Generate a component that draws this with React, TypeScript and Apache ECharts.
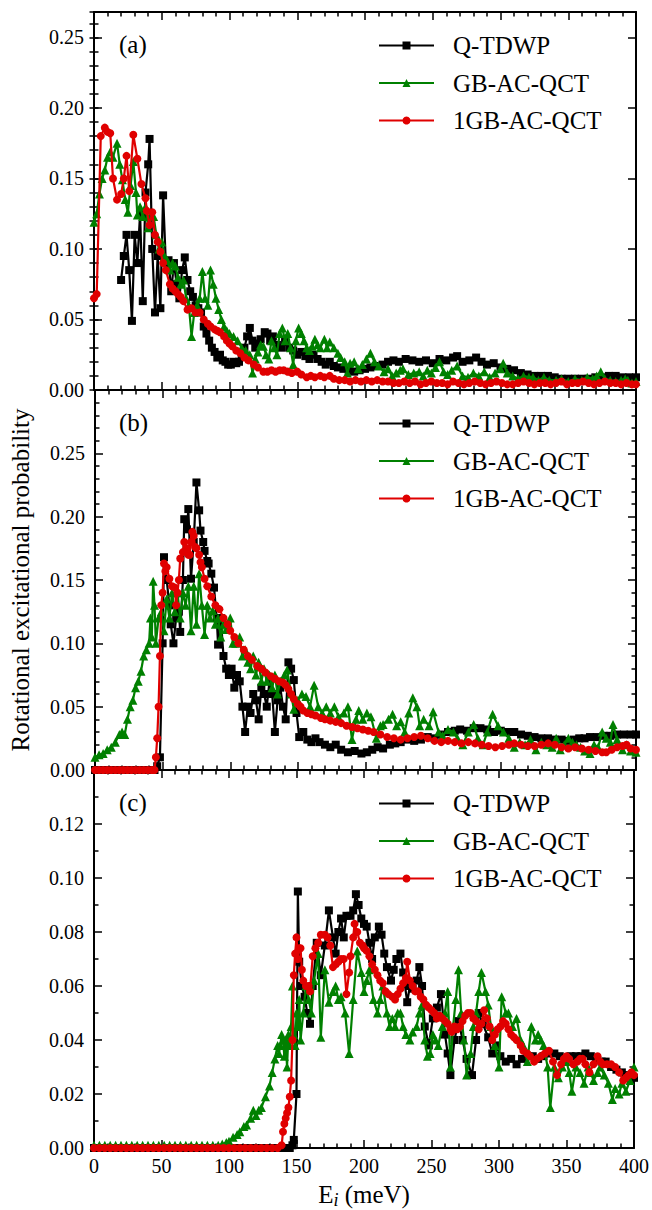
import React, { useEffect, useRef } from "react";
import * as echarts from "echarts";

const NAMES = ["Q-TDWP", "GB-AC-QCT", "1GB-AC-QCT"];
const COLORS = ["#000000", "#008000", "#e00000"];
const SYMBOLS = ["rect", "triangle", "circle"];
const SYMBOL_SIZES = [8, 9, 8];
const PANEL_LABELS = ["(a)", "(b)", "(c)"];
const X_TICKS = { min: 0, max: 400, interval: 50 };
const Y_RANGES = [
  { max: 0.268, interval: 0.05 },
  { max: 0.3, interval: 0.05 },
  { max: 0.14, interval: 0.02 },
];

type P = [number, number][];

// Panel (a)
const aQtdwp: P = [[20,0.078],[22,0.095],[24,0.11],[26,0.085],[28,0.049],[30,0.11],[32,0.09],[34,0.125],[36,0.063],[38,0.14],[40,0.16],[41,0.178],[43,0.1],[45,0.055],[47,0.095],[49,0.058],[51,0.138],[53,0.09],[55,0.092],[57,0.07],[59,0.09],[61,0.075],[63,0.065],[65,0.085],[67,0.094],[69,0.078],[71,0.07],[73,0.066],[75,0.06],[77,0.058],[79,0.055],[81,0.045],[83,0.04],[85,0.035],[87,0.03],[89,0.027],[91,0.023],[93,0.025],[95,0.021],[97,0.02],[99,0.018],[101,0.018],[103,0.02],[105,0.019],[107,0.02],[109,0.025],[111,0.03],[113,0.038],[115,0.044],[117,0.035],[119,0.03],[121,0.033],[123,0.036],[126,0.041],[128,0.04],[130,0.035],[132,0.038],[135,0.032],[138,0.03],[141,0.034],[144,0.03],[147,0.028],[150,0.025],[153,0.027],[156,0.024],[159,0.022],[162,0.025],[165,0.022],[168,0.02],[171,0.018],[174,0.02],[177,0.017],[180,0.016],[184,0.015],[188,0.014],[192,0.013],[196,0.014],[200,0.015],[204,0.016],[208,0.017],[213,0.018],[217,0.02],[221,0.021],[225,0.02],[230,0.022],[235,0.021],[240,0.02],[245,0.021],[250,0.019],[255,0.022],[260,0.021],[265,0.023],[268,0.024],[272,0.02],[277,0.021],[282,0.023],[286,0.02],[290,0.018],[295,0.019],[300,0.016],[305,0.015],[310,0.014],[315,0.012],[320,0.011],[325,0.01],[330,0.01],[335,0.01],[340,0.009],[345,0.008],[350,0.008],[355,0.008],[360,0.008],[365,0.008],[370,0.009],[375,0.009],[380,0.01],[385,0.01],[390,0.009],[395,0.009],[400,0.009]];
const aGb: P = [[0,0.119],[2,0.125],[4,0.139],[6,0.15],[8,0.156],[10,0.165],[12,0.169],[14,0.165],[17,0.175],[19,0.16],[21,0.149],[23,0.135],[25,0.126],[27,0.145],[29,0.162],[31,0.14],[32,0.124],[34,0.13],[36,0.123],[38,0.13],[40,0.115],[42,0.125],[44,0.123],[46,0.11],[48,0.1],[50,0.105],[52,0.095],[54,0.092],[56,0.085],[58,0.09],[60,0.088],[62,0.08],[64,0.075],[66,0.078],[68,0.065],[70,0.06],[72,0.038],[74,0.055],[76,0.06],[78,0.065],[80,0.084],[82,0.065],[84,0.06],[86,0.085],[88,0.075],[90,0.065],[92,0.057],[94,0.05],[96,0.045],[98,0.042],[100,0.04],[103,0.038],[106,0.035],[109,0.03],[112,0.028],[115,0.025],[117,0.012],[119,0.022],[121,0.027],[123,0.032],[125,0.031],[127,0.025],[129,0.022],[131,0.035],[133,0.03],[135,0.025],[137,0.04],[139,0.044],[141,0.035],[143,0.04],[145,0.03],[147,0.018],[149,0.035],[151,0.044],[153,0.04],[155,0.035],[157,0.03],[159,0.028],[161,0.031],[163,0.036],[165,0.032],[167,0.03],[170,0.036],[172,0.03],[174,0.034],[177,0.03],[180,0.026],[182,0.023],[185,0.02],[187,0.012],[189,0.019],[192,0.02],[195,0.015],[198,0.018],[201,0.022],[204,0.026],[207,0.02],[210,0.017],[214,0.013],[217,0.015],[220,0.01],[223,0.012],[226,0.014],[228,0.015],[232,0.011],[236,0.012],[240,0.013],[243,0.01],[246,0.014],[249,0.012],[252,0.016],[255,0.02],[258,0.013],[261,0.011],[264,0.014],[268,0.017],[272,0.01],[276,0.009],[280,0.012],[284,0.01],[288,0.013],[292,0.009],[296,0.012],[300,0.015],[302,0.019],[305,0.012],[309,0.01],[313,0.008],[317,0.01],[321,0.009],[324,0.009],[328,0.007],[332,0.009],[336,0.007],[341,0.007],[345,0.008],[350,0.006],[355,0.008],[360,0.007],[364,0.009],[368,0.008],[371,0.01],[374,0.013],[377,0.008],[381,0.007],[385,0.006],[389,0.007],[392,0.008],[394,0.007],[397,0.005],[400,0.006]];
const aGb1: P = [[0,0.065],[2,0.068],[5,0.18],[8,0.186],[10,0.183],[12,0.182],[14,0.15],[17,0.135],[20,0.139],[22,0.15],[24,0.166],[26,0.141],[29,0.181],[32,0.164],[35,0.146],[38,0.136],[39,0.127],[41,0.117],[43,0.126],[45,0.11],[47,0.105],[49,0.098],[51,0.09],[53,0.085],[56,0.075],[58,0.072],[60,0.07],[62,0.068],[64,0.066],[66,0.063],[69,0.057],[72,0.058],[75,0.055],[78,0.055],[81,0.05],[84,0.047],[86,0.045],[89,0.043],[91,0.042],[93,0.041],[96,0.038],[98,0.035],[100,0.033],[102,0.031],[105,0.028],[108,0.026],[111,0.023],[114,0.021],[118,0.018],[121,0.016],[125,0.013],[128,0.013],[131,0.014],[134,0.013],[137,0.014],[140,0.014],[143,0.013],[146,0.012],[150,0.013],[153,0.011],[157,0.009],[160,0.01],[163,0.009],[167,0.01],[170,0.009],[174,0.01],[177,0.008],[181,0.007],[185,0.007],[189,0.006],[193,0.007],[197,0.006],[201,0.007],[205,0.006],[209,0.007],[213,0.006],[217,0.006],[221,0.005],[225,0.005],[229,0.006],[233,0.005],[237,0.006],[241,0.004],[245,0.005],[249,0.006],[253,0.005],[257,0.005],[261,0.004],[265,0.006],[269,0.005],[273,0.004],[277,0.005],[281,0.006],[285,0.005],[289,0.004],[293,0.005],[297,0.006],[301,0.005],[305,0.004],[309,0.004],[313,0.005],[317,0.006],[321,0.005],[325,0.004],[329,0.005],[333,0.005],[337,0.004],[341,0.005],[345,0.006],[349,0.004],[353,0.005],[357,0.005],[361,0.006],[365,0.005],[369,0.004],[373,0.005],[377,0.006],[381,0.005],[385,0.005],[389,0.004],[393,0.005],[397,0.004],[400,0.004]];

// Panel (b)
const bQtdwp: P = [[0,0],[3,0],[6,0],[9,0],[12,0],[15,0],[18,0],[21,0],[24,0],[27,0],[30,0],[33,0],[36,0],[39,0],[42,0],[44,0],[46,0.003],[48,0.01],[50,0.1],[51,0.168],[53,0.15],[55,0.13],[56,0.115],[58,0.1],[60,0.12],[62,0.125],[63,0.109],[65,0.15],[66,0.198],[68,0.19],[69,0.206],[71,0.151],[73,0.18],[75,0.227],[77,0.205],[78,0.189],[80,0.18],[81,0.173],[83,0.165],[84,0.163],[86,0.155],[88,0.144],[90,0.12],[91,0.099],[93,0.12],[95,0.09],[97,0.08],[99,0.075],[101,0.08],[103,0.065],[105,0.075],[107,0.07],[109,0.05],[111,0.03],[113,0.05],[115,0.045],[117,0.06],[119,0.055],[121,0.04],[123,0.065],[125,0.06],[127,0.05],[129,0.07],[131,0.06],[133,0.03],[135,0.055],[137,0.065],[139,0.05],[141,0.04],[143,0.085],[145,0.08],[147,0.071],[149,0.045],[151,0.026],[154,0.03],[157,0.024],[160,0.022],[163,0.025],[166,0.022],[170,0.02],[174,0.018],[178,0.02],[182,0.016],[187,0.014],[192,0.015],[197,0.013],[201,0.014],[205,0.016],[209,0.018],[213,0.017],[218,0.02],[222,0.021],[226,0.022],[231,0.024],[236,0.023],[241,0.024],[246,0.026],[251,0.025],[256,0.028],[261,0.03],[266,0.031],[270,0.032],[275,0.031],[280,0.033],[285,0.033],[290,0.032],[295,0.03],[300,0.031],[305,0.03],[310,0.03],[315,0.028],[320,0.027],[325,0.026],[330,0.025],[335,0.025],[340,0.024],[345,0.024],[350,0.023],[354,0.024],[358,0.025],[362,0.025],[366,0.026],[371,0.026],[376,0.027],[381,0.027],[386,0.028],[391,0.028],[396,0.028],[400,0.028]];
const bGb: P = [[0,0.01],[3,0.012],[6,0.013],[9,0.016],[12,0.018],[15,0.022],[18,0.028],[20,0.03],[22,0.028],[24,0.04],[26,0.05],[28,0.055],[30,0.065],[32,0.07],[34,0.078],[36,0.09],[38,0.095],[40,0.1],[41,0.12],[42,0.105],[43,0.149],[44,0.13],[45,0.1],[47,0.12],[49,0.125],[51,0.11],[53,0.135],[55,0.12],[57,0.14],[59,0.125],[61,0.14],[63,0.12],[65,0.14],[67,0.13],[69,0.145],[71,0.11],[73,0.145],[75,0.115],[77,0.155],[79,0.13],[81,0.107],[83,0.13],[85,0.12],[87,0.126],[89,0.115],[91,0.12],[93,0.105],[95,0.115],[97,0.111],[100,0.12],[102,0.1],[104,0.1],[107,0.105],[109,0.09],[111,0.095],[113,0.085],[115,0.08],[117,0.09],[119,0.075],[121,0.085],[123,0.07],[125,0.08],[127,0.07],[129,0.075],[131,0.065],[133,0.075],[135,0.06],[137,0.07],[140,0.075],[142,0.079],[145,0.06],[147,0.048],[150,0.055],[153,0.06],[156,0.058],[159,0.05],[162,0.067],[165,0.05],[168,0.045],[171,0.05],[174,0.045],[177,0.05],[180,0.042],[184,0.045],[187,0.05],[190,0.024],[193,0.04],[195,0.047],[198,0.04],[201,0.045],[204,0.042],[208,0.025],[211,0.035],[213,0.036],[217,0.04],[220,0.044],[223,0.035],[226,0.038],[229,0.03],[232,0.045],[235,0.057],[238,0.05],[240,0.035],[243,0.04],[247,0.035],[250,0.046],[254,0.03],[257,0.027],[261,0.032],[265,0.03],[268,0.025],[272,0.02],[276,0.03],[280,0.036],[283,0.025],[287,0.02],[290,0.03],[294,0.044],[298,0.035],[302,0.03],[306,0.025],[310,0.018],[314,0.022],[318,0.02],[322,0.024],[326,0.016],[330,0.022],[334,0.02],[338,0.018],[341,0.025],[344,0.016],[347,0.02],[350,0.025],[353,0.022],[356,0.02],[359,0.018],[362,0.015],[366,0.013],[369,0.02],[372,0.018],[375,0.03],[378,0.025],[381,0.022],[383,0.036],[386,0.024],[390,0.016],[393,0.02],[396,0.015],[400,0.014]];
const bGb1: P = [[0,0],[3,0],[6,0],[9,0],[12,0],[15,0],[18,0],[21,0],[24,0],[27,0],[30,0],[33,0],[36,0],[39,0],[42,0],[44,0],[45,0.01],[46,0.025],[47,0.05],[48,0.09],[49,0.13],[50,0.14],[51,0.163],[52,0.157],[53,0.16],[55,0.151],[57,0.145],[59,0.144],[60,0.13],[61,0.14],[62,0.15],[63,0.167],[65,0.172],[66,0.18],[68,0.175],[69,0.17],[70,0.17],[71,0.18],[72,0.188],[73,0.185],[74,0.176],[75,0.175],[77,0.17],[78,0.164],[79,0.16],[81,0.151],[83,0.145],[86,0.137],[89,0.13],[92,0.127],[95,0.12],[98,0.115],[100,0.11],[103,0.105],[106,0.1],[110,0.095],[113,0.09],[116,0.087],[120,0.082],[123,0.08],[126,0.077],[130,0.074],[133,0.072],[136,0.07],[139,0.069],[141,0.067],[143,0.064],[145,0.06],[147,0.056],[150,0.052],[152,0.05],[154,0.047],[157,0.045],[160,0.044],[163,0.043],[167,0.041],[170,0.04],[174,0.039],[178,0.038],[182,0.037],[186,0.035],[190,0.034],[194,0.033],[198,0.032],[202,0.031],[206,0.03],[211,0.028],[216,0.026],[221,0.025],[226,0.024],[231,0.025],[236,0.026],[241,0.027],[246,0.025],[251,0.023],[256,0.022],[261,0.023],[266,0.022],[271,0.021],[276,0.022],[281,0.021],[286,0.02],[291,0.019],[296,0.018],[301,0.019],[306,0.02],[310,0.021],[315,0.02],[320,0.019],[325,0.019],[330,0.02],[335,0.021],[340,0.02],[345,0.018],[350,0.017],[355,0.018],[360,0.017],[365,0.016],[370,0.015],[375,0.014],[378,0.014],[382,0.016],[386,0.018],[390,0.019],[393,0.02],[396,0.017],[400,0.016]];

// Panel (c)
const cQtdwp: P = [[0,0],[4,0],[8,0],[12,0],[16,0],[20,0],[24,0],[28,0],[32,0],[36,0],[40,0],[44,0],[48,0],[52,0],[56,0],[60,0],[64,0],[68,0],[72,0],[76,0],[80,0],[84,0],[88,0],[92,0],[96,0],[100,0],[104,0],[108,0],[112,0],[116,0],[120,0],[124,0],[128,0],[132,0],[136,0],[140,0],[143,0],[145,0],[147,0.001],[148,0.003],[150,0.02],[151,0.095],[152,0.069],[154,0.06],[156,0.056],[158,0.05],[160,0.046],[162,0.06],[165,0.076],[168,0.064],[171,0.075],[174,0.088],[177,0.078],[179,0.072],[181,0.08],[183,0.085],[185,0.078],[187,0.086],[190,0.086],[192,0.088],[194,0.094],[196,0.09],[198,0.085],[200,0.083],[202,0.082],[204,0.076],[206,0.07],[208,0.078],[211,0.082],[213,0.079],[215,0.072],[217,0.067],[220,0.062],[222,0.066],[224,0.07],[227,0.072],[229,0.065],[232,0.054],[234,0.06],[236,0.059],[239,0.062],[241,0.067],[243,0.06],[245,0.045],[248,0.038],[251,0.048],[254,0.052],[257,0.057],[260,0.042],[262,0.035],[264,0.027],[267,0.04],[270,0.047],[273,0.04],[276,0.033],[280,0.027],[283,0.04],[285,0.05],[288,0.046],[292,0.041],[295,0.035],[298,0.038],[301,0.034],[305,0.032],[309,0.033],[313,0.031],[317,0.033],[321,0.034],[325,0.034],[329,0.033],[333,0.034],[337,0.035],[341,0.035],[345,0.034],[349,0.033],[353,0.034],[357,0.034],[361,0.034],[364,0.035],[368,0.034],[372,0.033],[376,0.032],[379,0.032],[383,0.03],[387,0.029],[391,0.028],[394,0.027],[397,0.026],[400,0.026]];
const cGb: P = [[0,0.001],[4,0.001],[8,0.001],[12,0.001],[16,0.001],[20,0.001],[24,0.001],[28,0.001],[32,0.001],[36,0.001],[40,0.001],[44,0.001],[48,0.001],[52,0.001],[56,0.001],[60,0.001],[64,0.001],[68,0.001],[72,0.001],[76,0.001],[80,0.001],[84,0.001],[88,0.001],[92,0.001],[95,0.0015],[98,0.002],[100,0.0025],[103,0.004],[106,0.005],[108,0.006],[111,0.008],[113,0.0085],[116,0.011],[118,0.014],[120,0.012],[122,0.014],[124,0.015],[127,0.019],[130,0.023],[132,0.028],[134,0.033],[136,0.038],[137,0.035],[138,0.038],[139,0.042],[140,0.04],[141,0.034],[142,0.04],[143,0.03],[144,0.042],[145,0.038],[146,0.045],[147,0.06],[148,0.042],[149,0.038],[150,0.05],[151,0.045],[152,0.055],[153,0.04],[155,0.05],[157,0.06],[159,0.055],[161,0.05],[163,0.062],[166,0.072],[168,0.041],[171,0.066],[174,0.054],[177,0.058],[179,0.06],[181,0.055],[183,0.056],[186,0.05],[189,0.035],[192,0.055],[195,0.073],[198,0.065],[200,0.058],[202,0.062],[204,0.066],[207,0.055],[210,0.05],[212,0.055],[214,0.06],[217,0.05],[219,0.045],[221,0.048],[223,0.045],[225,0.05],[227,0.05],[229,0.045],[231,0.042],[234,0.04],[236,0.043],[239,0.045],[241,0.05],[243,0.053],[245,0.04],[247,0.034],[249,0.035],[251,0.042],[253,0.04],[255,0.038],[258,0.045],[260,0.05],[262,0.058],[264,0.03],[266,0.045],[268,0.055],[270,0.066],[272,0.05],[274,0.04],[276,0.027],[279,0.035],[281,0.045],[283,0.05],[285,0.058],[287,0.065],[290,0.058],[292,0.053],[294,0.045],[297,0.038],[300,0.03],[302,0.056],[305,0.05],[307,0.05],[310,0.045],[313,0.048],[316,0.04],[318,0.038],[321,0.032],[324,0.045],[327,0.04],[329,0.042],[331,0.04],[333,0.038],[336,0.03],[338,0.015],[341,0.03],[344,0.026],[347,0.03],[350,0.032],[352,0.028],[354,0.021],[357,0.03],[360,0.028],[363,0.024],[366,0.03],[368,0.028],[370,0.025],[373,0.028],[375,0.03],[378,0.027],[381,0.024],[384,0.018],[386,0.022],[389,0.02],[391,0.024],[394,0.021],[397,0.025],[400,0.03]];
const cGb1: P = [[0,0],[4,0],[8,0],[12,0],[16,0],[20,0],[24,0],[28,0],[32,0],[36,0],[40,0],[44,0],[48,0],[52,0],[56,0],[60,0],[64,0],[68,0],[72,0],[76,0],[80,0],[84,0],[88,0],[92,0],[96,0],[100,0],[104,0],[108,0],[112,0],[116,0],[120,0],[124,0],[128,0],[132,0],[136,0],[139,0.001],[140,0.006],[141,0.009],[142,0.011],[143,0.013],[144,0.015],[145,0.019],[146,0.025],[147,0.04],[148,0.064],[149,0.072],[150,0.078],[151,0.07],[152,0.074],[153,0.074],[154,0.066],[155,0.062],[157,0.06],[159,0.06],[160,0.058],[162,0.071],[164,0.074],[166,0.076],[168,0.079],[171,0.079],[173,0.078],[175,0.075],[177,0.067],[179,0.068],[181,0.069],[183,0.07],[185,0.07],[187,0.057],[189,0.065],[190,0.071],[192,0.078],[193,0.083],[195,0.08],[197,0.076],[199,0.075],[200,0.074],[202,0.073],[204,0.071],[206,0.068],[208,0.066],[210,0.064],[212,0.062],[214,0.061],[216,0.058],[218,0.057],[221,0.056],[223,0.055],[225,0.057],[227,0.059],[229,0.061],[231,0.063],[232,0.069],[234,0.062],[236,0.06],[238,0.058],[240,0.058],[242,0.056],[244,0.055],[246,0.053],[248,0.052],[250,0.051],[252,0.05],[254,0.048],[256,0.049],[258,0.048],[260,0.047],[262,0.046],[264,0.044],[265,0.043],[267,0.045],[269,0.044],[271,0.045],[273,0.047],[275,0.049],[277,0.05],[279,0.05],[281,0.048],[283,0.047],[285,0.044],[287,0.046],[289,0.051],[291,0.048],[293,0.045],[295,0.04],[297,0.042],[299,0.044],[301,0.045],[303,0.047],[305,0.046],[307,0.044],[309,0.042],[311,0.041],[313,0.04],[316,0.038],[318,0.036],[321,0.035],[323,0.034],[326,0.032],[328,0.033],[331,0.034],[334,0.035],[337,0.036],[340,0.032],[343,0.027],[346,0.031],[348,0.033],[350,0.034],[352,0.033],[355,0.031],[358,0.032],[360,0.033],[362,0.033],[364,0.031],[367,0.028],[370,0.031],[373,0.034],[375,0.032],[377,0.031],[380,0.031],[383,0.031],[386,0.03],[389,0.028],[392,0.025],[394,0.026],[396,0.027],[398,0.028],[400,0.027]];

const PANELS: P[][] = [
  [aQtdwp, aGb, aGb1],
  [bQtdwp, bGb, bGb1],
  [cQtdwp, cGb, cGb1],
];

const FONT = "'Liberation Serif', 'Times New Roman', serif";
const GRIDS = [
  { top: 12, height: 378 },
  { top: 390, height: 380 },
  { top: 770, height: 380 },
];
const LEFT = 94;
const WIDTH = 542;

export default function App() {
  const ref = useRef<HTMLDivElement>(null);
  useEffect(() => {
    document.body.style.margin = "0";
    if (!ref.current) return;
    const chart = echarts.init(ref.current, undefined, { renderer: "svg" });

    const tickStyle = { color: "#000", width: 1.5 };
    const xAxis: any[] = [];
    const yAxis: any[] = [];
    GRIDS.forEach((g, gi) => {
      ["bottom", "top"].forEach((pos) => {
        xAxis.push({
          type: "value",
          gridIndex: gi,
          position: pos,
          min: X_TICKS.min,
          max: X_TICKS.max,
          interval: X_TICKS.interval,
          axisLine: { show: true, onZero: false, lineStyle: { color: "#000", width: 2 } },
          axisTick: { show: true, inside: true, length: 8, lineStyle: tickStyle },
          minorTick: { show: true, splitNumber: 5, length: 4.5, lineStyle: tickStyle },
          splitLine: { show: false },
          axisLabel: {
            show: gi === 2 && pos === "bottom",
            fontFamily: FONT,
            fontSize: 20,
            color: "#000",
            margin: 8,
          },
          ...(gi === 2 && pos === "bottom"
            ? {
                name: "{a|E}{b|i}{a| (meV)}",
                nameLocation: "middle",
                nameGap: 34,
                nameTextStyle: {
                  rich: {
                    a: { fontFamily: FONT, fontSize: 25, color: "#000", verticalAlign: "top" },
                    b: { fontFamily: FONT, fontSize: 18, fontStyle: "italic", color: "#000", verticalAlign: "top", padding: [9, 0, 0, 0] },
                  },
                },
              }
            : {}),
        });
      });
      const yr = Y_RANGES[gi];
      ["left", "right"].forEach((pos) => {
        yAxis.push({
          type: "value",
          gridIndex: gi,
          position: pos,
          min: 0,
          max: yr.max,
          interval: yr.interval,
          axisLine: { show: true, onZero: false, lineStyle: { color: "#000", width: 2 } },
          axisTick: { show: true, inside: true, length: 8, lineStyle: tickStyle },
          minorTick: {
            show: gi !== 0,
            splitNumber: Math.round(yr.interval / 0.01),
            length: 4.5,
            lineStyle: tickStyle,
          },
          splitLine: { show: false },
          axisLabel: {
            show: pos === "left",
            showMaxLabel: false,
            formatter: (v: number) => v.toFixed(2),
            fontFamily: FONT,
            fontSize: 20,
            color: "#000",
            margin: 10,
          },
          ...(gi === 1 && pos === "left"
            ? {
                name: "Rotational excitational probability",
                nameLocation: "middle",
                nameGap: 62,
                nameRotate: 90,
                nameTextStyle: { fontFamily: FONT, fontSize: 25, color: "#000" },
              }
            : {}),
        });
      });
    });
    // minor tick axes for panel (a)
    ["left", "right"].forEach((pos) => {
      yAxis.push({
        type: "value",
        gridIndex: 0,
        position: pos,
        min: 0,
        max: Y_RANGES[0].max,
        interval: 0.01,
        axisLine: { show: false },
        axisTick: { show: true, inside: true, length: 4.5, lineStyle: tickStyle },
        splitLine: { show: false },
        axisLabel: { show: false },
      });
    });

    const series: any[] = [];
    PANELS.forEach((panel, gi) => {
      panel.forEach((data, si) => {
        series.push({
          type: "line",
          name: NAMES[si],
          xAxisIndex: gi * 2,
          yAxisIndex: gi * 2,
          data,
          symbol: SYMBOLS[si],
          symbolSize: SYMBOL_SIZES[si],
          showSymbol: true,
          lineStyle: { color: COLORS[si], width: 2.2 },
          itemStyle: { color: COLORS[si] },
          z: 2 + si,
        });
      });
    });

    const legend = GRIDS.map((g) => ({
      orient: "vertical",
      left: 378,
      top: g.top + 21,
      padding: 0,
      itemWidth: 55,
      itemHeight: 10,
      itemGap: 12.5,
      data: NAMES,
      textStyle: { fontFamily: FONT, fontSize: 25, color: "#000", lineHeight: 25, padding: [0, 0, 0, 14] },
      selectedMode: false,
    }));

    const graphic = GRIDS.map((g, gi) => ({
      type: "text",
      left: 119,
      top: g.top + 20,
      style: { text: PANEL_LABELS[gi], fontFamily: FONT, fontSize: 25, fill: "#000" },
    }));

    chart.setOption({
      animation: false,
      backgroundColor: "#ffffff",
      grid: GRIDS.map((g) => ({ left: LEFT, width: WIDTH, top: g.top, height: g.height })),
      xAxis,
      yAxis,
      series,
      legend,
      graphic,
    });
    return () => chart.dispose();
  }, []);
  return <div ref={ref} style={{ width: 652, height: 1210 }} />;
}
